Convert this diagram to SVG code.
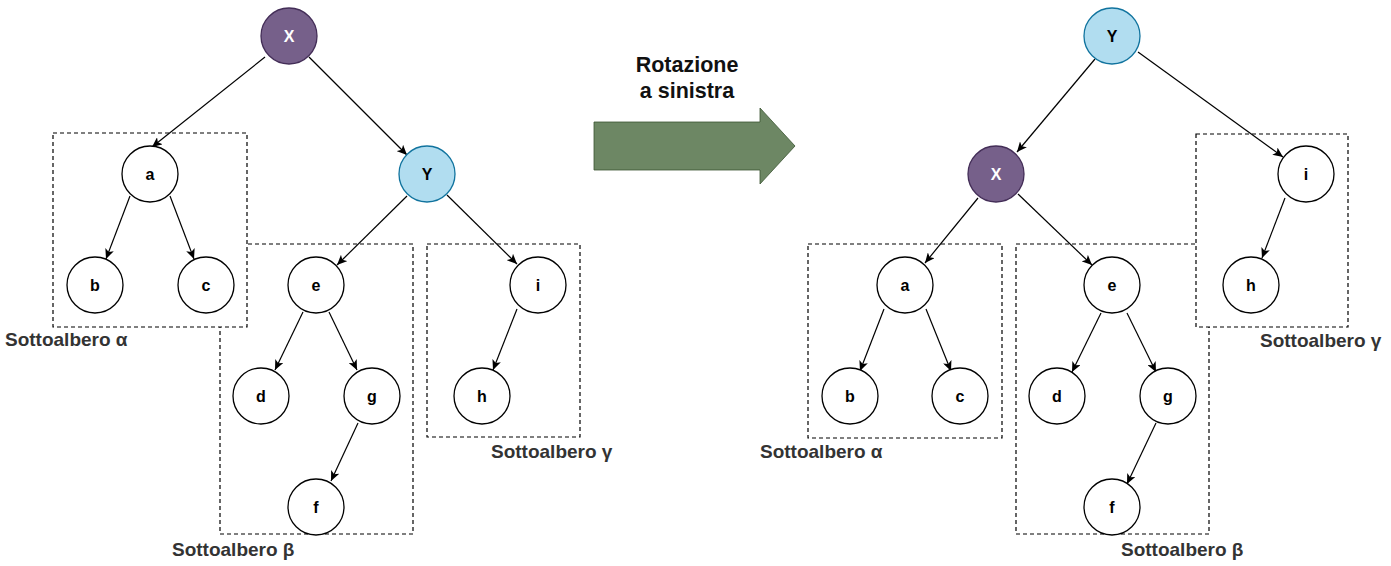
<svg xmlns="http://www.w3.org/2000/svg" width="1391" height="566" viewBox="0 0 1391 566">
<style>
.box{fill:#fff;stroke:#000;stroke-width:1.2;stroke-dasharray:4 3}
.lbl{font-family:"Liberation Sans",Arial,sans-serif;font-weight:bold;font-size:19px;fill:#333}
.nd{fill:#fff;stroke:#000;stroke-width:1.3}
.ndx{fill:#76608a;stroke:#432d57;stroke-width:1.3}
.ndy{fill:#b1ddf0;stroke:#10739e;stroke-width:1.3}
.t{font-family:"Liberation Sans",Arial,sans-serif;font-weight:bold;font-size:16px;fill:#000;text-anchor:middle}
.tw{fill:#fff}
.e{stroke:#000;stroke-width:1.2;fill:none;marker-end:url(#ah)}
.title{font-family:"Liberation Sans",Arial,sans-serif;font-weight:bold;font-size:21.5px;fill:#111;text-anchor:middle}
</style>
<defs>
<marker id="ah" markerUnits="userSpaceOnUse" markerWidth="11" markerHeight="9" refX="10" refY="4.5" orient="auto">
<path d="M0,0 L10,4.5 L0,9 L2.5,4.5 Z" fill="#000"/>
</marker>
</defs>

<!-- subtree boxes, left -->
<g id="box-beta-left"><rect class="box" x="220" y="244" width="193" height="290"/><text class="lbl" x="172" y="556">Sottoalbero β</text></g>
<g id="box-alpha-left"><rect class="box" x="53" y="133" width="194" height="194"/><text class="lbl" x="5" y="346">Sottoalbero α</text></g>
<g id="box-gamma-left"><rect class="box" x="427" y="244" width="153" height="193"/><text class="lbl" x="491" y="458">Sottoalbero γ</text></g>

<!-- subtree boxes, right -->
<g id="box-beta-right"><rect class="box" x="1016" y="244" width="193" height="290"/><text class="lbl" x="1121" y="556">Sottoalbero β</text></g>
<g id="box-alpha-right"><rect class="box" x="808" y="244" width="194" height="194"/><text class="lbl" x="760" y="458">Sottoalbero α</text></g>
<g id="box-gamma-right"><rect class="box" x="1196" y="134" width="152" height="193"/><text class="lbl" x="1260" y="347">Sottoalbero γ</text></g>

<!-- rotation arrow -->
<g id="rotation">
<path d="M594,122 L760,122 L760,108 L795,146 L760,184 L760,170 L594,170 Z" fill="#6d8764" stroke="#3a5431" stroke-width="0.8"/>
<text class="title" x="687" y="72">Rotazione</text>
<text class="title" x="687" y="98">a sinistra</text>
</g>

<g id="connectors">
<!-- left tree -->
<line class="e" x1="265" y1="57" x2="152" y2="147"/>
<line class="e" x1="309" y1="57" x2="407" y2="155"/>
<line class="e" x1="130" y1="196" x2="106" y2="259"/>
<line class="e" x1="170" y1="196" x2="194" y2="259"/>
<line class="e" x1="407" y1="196" x2="337" y2="265"/>
<line class="e" x1="447" y1="195" x2="517" y2="264"/>
<line class="e" x1="303" y1="312" x2="275" y2="370"/>
<line class="e" x1="329" y1="312" x2="357" y2="370"/>
<line class="e" x1="358" y1="423" x2="331" y2="481"/>
<line class="e" x1="517" y1="309" x2="493" y2="370"/>
<!-- right tree -->
<line class="e" x1="1095" y1="59" x2="1017" y2="152"/>
<line class="e" x1="1138" y1="52" x2="1283" y2="157"/>
<line class="e" x1="978" y1="198" x2="925" y2="263"/>
<line class="e" x1="1018" y1="194" x2="1092" y2="265"/>
<line class="e" x1="884" y1="309" x2="860" y2="371"/>
<line class="e" x1="926" y1="309" x2="951" y2="371"/>
<line class="e" x1="1101" y1="313" x2="1072" y2="372"/>
<line class="e" x1="1127" y1="313" x2="1156" y2="372"/>
<line class="e" x1="1156" y1="423" x2="1127" y2="484"/>
<line class="e" x1="1285" y1="198" x2="1262" y2="258"/>
</g>

<!-- left tree nodes -->
<g id="L-X"><circle class="ndx" cx="289" cy="36" r="28"/><text class="t tw" x="289" y="41.8">X</text></g>
<g id="L-a"><circle class="nd" cx="150" cy="174" r="28"/><text class="t" x="150" y="179.8">a</text></g>
<g id="L-Y"><circle class="ndy" cx="427" cy="174" r="28"/><text class="t" x="427" y="179.8">Y</text></g>
<g id="L-b"><circle class="nd" cx="95" cy="285" r="28"/><text class="t" x="95" y="290.8">b</text></g>
<g id="L-c"><circle class="nd" cx="206" cy="285" r="28"/><text class="t" x="206" y="290.8">c</text></g>
<g id="L-e"><circle class="nd" cx="316" cy="285" r="28"/><text class="t" x="316" y="290.8">e</text></g>
<g id="L-i"><circle class="nd" cx="538" cy="285" r="28"/><text class="t" x="538" y="290.8">i</text></g>
<g id="L-d"><circle class="nd" cx="261" cy="396" r="28"/><text class="t" x="261" y="401.8">d</text></g>
<g id="L-g"><circle class="nd" cx="372" cy="396" r="28"/><text class="t" x="372" y="401.8">g</text></g>
<g id="L-h"><circle class="nd" cx="482" cy="396" r="28"/><text class="t" x="482" y="401.8">h</text></g>
<g id="L-f"><circle class="nd" cx="316" cy="507" r="28"/><text class="t" x="316" y="512.8">f</text></g>

<!-- right tree nodes -->
<g id="R-Y"><circle class="ndy" cx="1112" cy="36" r="28"/><text class="t" x="1112" y="41.8">Y</text></g>
<g id="R-X"><circle class="ndx" cx="996" cy="174" r="28"/><text class="t tw" x="996" y="179.8">X</text></g>
<g id="R-i"><circle class="nd" cx="1306" cy="174" r="28"/><text class="t" x="1306" y="179.8">i</text></g>
<g id="R-a"><circle class="nd" cx="905" cy="285" r="28"/><text class="t" x="905" y="290.8">a</text></g>
<g id="R-e"><circle class="nd" cx="1112" cy="285" r="28"/><text class="t" x="1112" y="290.8">e</text></g>
<g id="R-h"><circle class="nd" cx="1251" cy="285" r="28"/><text class="t" x="1251" y="290.8">h</text></g>
<g id="R-b"><circle class="nd" cx="850" cy="396" r="28"/><text class="t" x="850" y="401.8">b</text></g>
<g id="R-c"><circle class="nd" cx="960" cy="396" r="28"/><text class="t" x="960" y="401.8">c</text></g>
<g id="R-d"><circle class="nd" cx="1057" cy="396" r="28"/><text class="t" x="1057" y="401.8">d</text></g>
<g id="R-g"><circle class="nd" cx="1168" cy="396" r="28"/><text class="t" x="1168" y="401.8">g</text></g>
<g id="R-f"><circle class="nd" cx="1112" cy="507" r="28"/><text class="t" x="1112" y="512.8">f</text></g>
</svg>
